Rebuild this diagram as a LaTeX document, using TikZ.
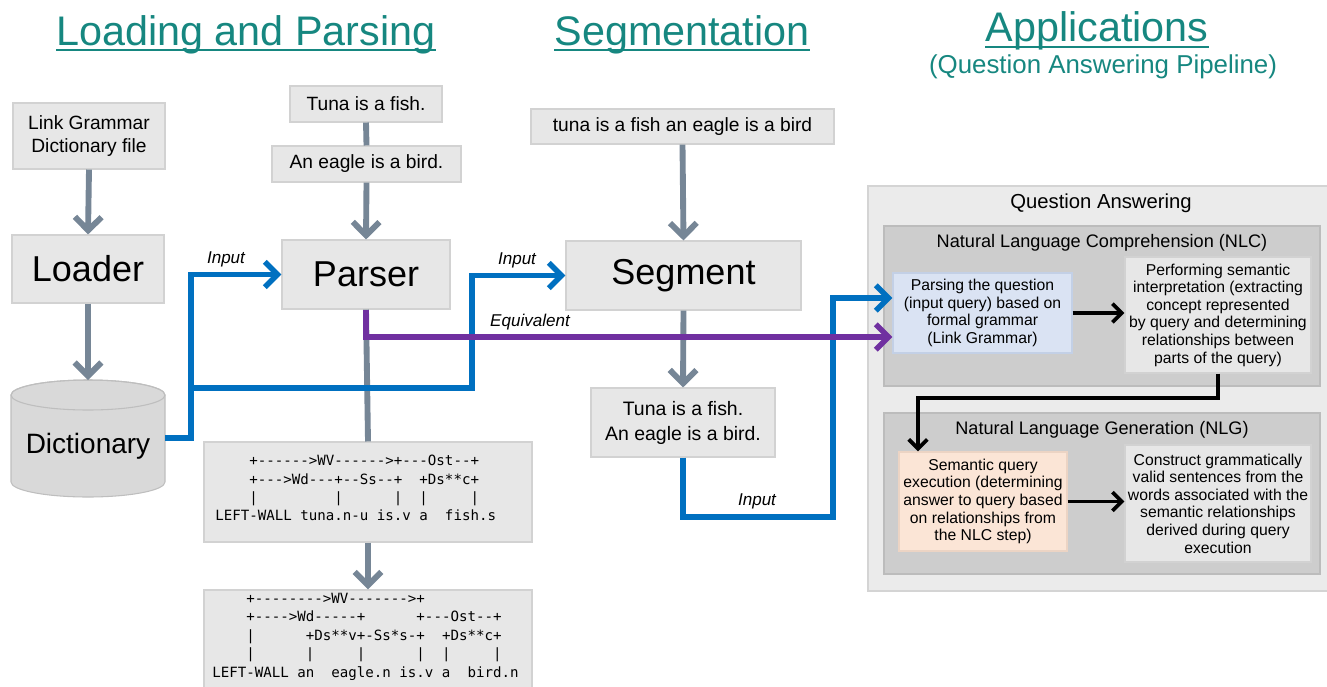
\documentclass[tikz,border=0pt]{standalone}
\usepackage{fontspec}
\setmainfont{Liberation Sans}
\setmonofont{DejaVu Sans Mono}
\usetikzlibrary{arrows.meta}
\definecolor{ttl}{RGB}{22,135,128}
\definecolor{arrgray}{RGB}{118,134,150}
\definecolor{myblue}{RGB}{0,112,192}
\definecolor{mypurple}{RGB}{112,48,160}
\definecolor{boxfill}{RGB}{231,231,231}
\definecolor{boxline}{RGB}{210,210,210}
\definecolor{cylfill}{RGB}{217,217,217}
\definecolor{cylline}{RGB}{190,190,190}
\definecolor{qafill}{RGB}{235,235,235}
\definecolor{qaline}{RGB}{212,212,212}
\definecolor{subfill}{RGB}{205,205,205}
\definecolor{subline}{RGB}{188,188,188}
\definecolor{bluefill}{RGB}{218,227,243}
\definecolor{blueline}{RGB}{195,208,230}
\definecolor{orfill}{RGB}{251,229,214}
\definecolor{orline}{RGB}{236,212,196}
\newcommand\cl[1]{\mbox{#1}}
\tikzset{
  box/.style={draw=boxline, fill=boxfill, line width=0.8pt, inner sep=0pt, align=center, text=black},
  title/.style={text=ttl, font=\fontsize{31pt}{36pt}\selectfont, inner sep=0pt, anchor=base},
  uline/.style={draw=ttl, line width=1.9pt},
  garrow/.style={draw=arrgray, line width=4.4pt, -{Straight Barb[length=10pt,width=20pt]}},
  gline/.style={draw=arrgray, line width=4.4pt},
  barrow/.style={draw=myblue, line width=4.2pt, -{Straight Barb[length=9.5pt,width=19pt]}},
  parrow/.style={draw=mypurple, line width=4.2pt, -{Straight Barb[length=9.5pt,width=19pt]}},
  karrow/.style={draw=black, line width=2.9pt, -{Straight Barb[length=7pt,width=14pt]}},
  lbl/.style={font=\itshape\fontsize{12.8pt}{15pt}\selectfont, inner sep=0pt},
  sm/.style={font=\fontsize{14.4pt}{17pt}\selectfont},
  big/.style={font=\fontsize{27pt}{32pt}\selectfont},
  tiny/.style={font=\fontsize{11.8pt}{13.2pt}\selectfont},
  code/.style={font=\ttfamily\fontsize{10.6pt}{13.8pt}\selectfont, align=left, inner sep=0pt, anchor=north west},
}
\begin{document}
\begin{tikzpicture}[x=0.75pt,y=-0.75pt]
\useasboundingbox (0,0) rectangle (1327,686);
% titles
\node[title] (t1) at (246,45) {Loading and Parsing};
\draw[uline] ([yshift=-3.8pt]t1.base west) -- ([yshift=-3.8pt]t1.base east);
\node[title] (t2) at (682,45) {Segmentation};
\draw[uline] ([yshift=-3.8pt]t2.base west) -- ([yshift=-3.8pt]t2.base east);
\node[title] (t3) at (1097,41) {Applications};
\draw[uline] ([yshift=-4.5pt]t3.base west) -- ([yshift=-4.5pt]t3.base east);
\node[text=ttl, font=\fontsize{19.4pt}{23pt}\selectfont, inner sep=0pt, anchor=base] (t4) at (1103,73) {(Question Answering Pipeline)};

% left column
\node[box, sm, minimum width=114pt, minimum height=49.5pt] (lg) at (89,136) {Link Grammar\\Dictionary file};
\node[box, big, minimum width=114pt, minimum height=51pt] (loader) at (88,269) {Loader};
\path[draw=cylline, fill=cylfill, line width=0.8pt] (11,395) -- (11,482) arc[start angle=180, end angle=360, x radius=57.75pt, y radius=11.25pt] -- (165,395) arc[start angle=0, end angle=180, x radius=57.75pt, y radius=11.25pt] -- cycle;
\draw[cylline, line width=0.8pt] (88,395) ellipse[x radius=57.75pt, y radius=11.25pt];
\node[inner sep=0pt, minimum width=115.5pt, minimum height=40pt, font=\fontsize{21pt}{25pt}\selectfont] (dict) at (88,446) {Dictionary};
\coordinate (dtop) at (88,380);

% middle column
\node[box, sm, minimum width=114pt, minimum height=27pt] (tuna) at (366,104) {Tuna is a fish.};
\node[box, sm, minimum width=141.75pt, minimum height=27pt] (eagle) at (366.5,164) {An eagle is a bird.};
\node[box, big, minimum width=126pt, minimum height=51.75pt] (parser) at (366,274.5) {Parser};
\node[box, minimum width=246pt, minimum height=75pt] (parse1) at (368,492) {};
\node[code] (c1) at (215,455) {\cl{~~~~+------>WV------>+---Ost--+}\\
\cl{~~~~+--->Wd---+--Ss--+~~+Ds**c+}\\
\cl{~~~~|~~~~~~~~~|~~~~~~|~~|~~~~~|}\\
\cl{LEFT-WALL~tuna.n-u~is.v~a~~fish.s}};
\node[box, minimum width=246pt, minimum height=84pt] (parse2) at (368,646) {};
\node[code] (c2) at (212,593) {\cl{~~~~+-------->WV------->+}\\
\cl{~~~~+---->Wd-----+~~~~~~+---Ost--+}\\
\cl{~~~~|~~~~~~+Ds**v+-Ss*s-+~~+Ds**c+}\\
\cl{~~~~|~~~~~~|~~~~~|~~~~~~|~~|~~~~~|}\\
\cl{LEFT-WALL~an~~eagle.n~is.v~a~~bird.n}};

% segmentation column
\node[box, sm, minimum width=227.25pt, minimum height=26.25pt] (segin) at (682.5,126.5) {tuna is a fish an eagle is a bird};
\node[box, big, minimum width=176.25pt, minimum height=51.75pt] (segment) at (683.5,275.5) {Segment};
\node[box, sm, minimum width=138pt, minimum height=51.75pt, font=\fontsize{14.6pt}{18.7pt}\selectfont] (segout) at (683,422.5) {Tuna is a fish.\\An eagle is a bird.};

% question answering
\path[draw=qaline, fill=qafill, line width=0.8pt] (868,186) rectangle (1335,591);
\node[font=\fontsize{15.2pt}{18pt}\selectfont, inner sep=0pt] (qa) at (1101,203) {Question Answering};
\path[draw=subline, fill=subfill, line width=0.8pt] (884,226) rectangle (1320,386);
\node[font=\fontsize{13.6pt}{16pt}\selectfont, inner sep=0pt] (nlc) at (1102,243) {Natural Language Comprehension (NLC)};
\path[draw=subline, fill=subfill, line width=0.8pt] (884,413) rectangle (1320,574);
\node[font=\fontsize{13.6pt}{16pt}\selectfont, inner sep=0pt] (nlg) at (1102,430) {Natural Language Generation (NLG)};
\node[box, tiny, draw=blueline, fill=bluefill, minimum width=134.25pt, minimum height=60pt] (parseq) at (982.5,313) {Parsing the question\\(input query) based on\\formal grammar\\(Link Grammar)};
\node[box, tiny, minimum width=139.5pt, minimum height=87pt] (interp) at (1218,315) {Performing semantic\\interpretation (extracting\\concept represented\\by query and determining\\relationships between\\parts of the query)};
\node[box, tiny, draw=orline, fill=orfill, minimum width=126pt, minimum height=74.25pt] (exec) at (983,501.5) {Semantic query\\execution (determining\\answer to query based\\on relationships from\\the NLC step)};
\node[box, tiny, minimum width=139.5pt, minimum height=87.75pt] (construct) at (1218,503.5) {Construct grammatically\\valid sentences from the\\words associated with the\\semantic relationships\\derived during query\\execution};

% gray connectors
\draw[garrow] (lg.south) -- (loader.north);
\draw[garrow] (loader.south) -- (dtop);
\draw[gline] (tuna.south) -- (eagle.north);
\draw[garrow] (eagle.south) -- (parser.north);
\draw[gline] (parser.south) -- (parse1.north);
\draw[garrow] (parse1.south) -- (parse2.north);
\draw[garrow] (segin.south) -- (segment.north);
\draw[garrow] (segment.south) -- (segout.north);

% blue connectors
\coordinate (j1) at (191,388);
\coordinate (j2) at (472,388);
\coordinate (j4) at (833,517);
\draw[barrow] ([yshift=6pt]dict.east) -| (j1) |- (parser.west);
\draw[barrow] (j1) -- (j2) |- (segment.west);
\draw[barrow] (segout.south) |- (j4) |- ([yshift=11.25pt]parseq.west);
% purple
\draw[parrow] (parser.south) |- ([yshift=-18pt]parseq.west);

% labels
\node[lbl] (in1) at (226,259) {Input};
\node[lbl] (in2) at (517,260) {Input};
\node[lbl] (eq) at (530,322) {Equivalent};
\node[lbl] (in3) at (757,501) {Input};

% black connectors
\coordinate (bend) at (918,398);
\draw[karrow] (parseq.east) -- (interp.west |- parseq.east);
\draw[karrow] (interp.south) |- (bend) -- (bend |- exec.north);
\draw[karrow] (exec.east) -- (construct.west |- exec.east);
\end{tikzpicture}
\end{document}
